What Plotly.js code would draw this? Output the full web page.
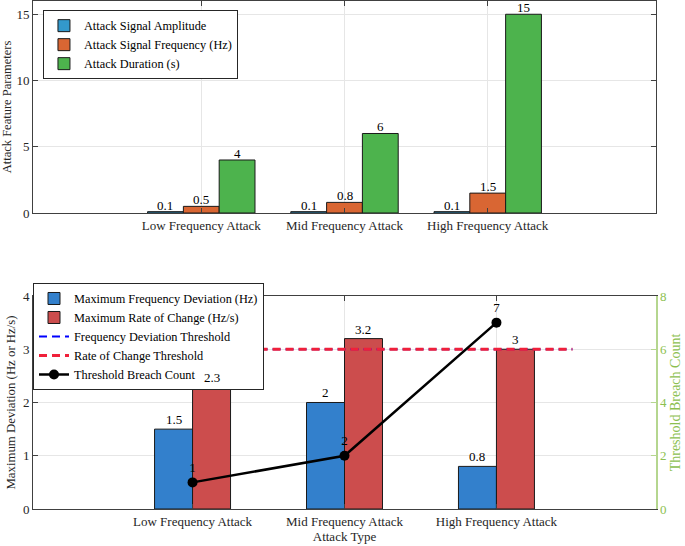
<!DOCTYPE html>
<html>
<head>
<meta charset="utf-8">
<script src="https://cdn.plot.ly/plotly-3.0.1.min.js"></script>
<style>html,body{margin:0;padding:0;background:#fff}#chart{width:685px;height:546px}</style>
</head>
<body>
<div id="chart"></div>
<script>
// ---- data ----
const categories = ['Low Frequency Attack', 'Mid Frequency Attack', 'High Frequency Attack'];
const attackAmplitude = [0.1, 0.1, 0.1];
const attackFrequency = [0.5, 0.8, 1.5];
const attackDuration = [4, 6, 15];
const maxFreqDeviation = [1.5, 2, 0.8];
const maxRateOfChange = [2.3, 3.2, 3];
const breachCount = [1, 2, 7];
const freqDevThreshold = 3;
const rocThreshold = 3;
const thresholdSpan = [0.5, 3.5];
const topYTicks = [0, 5, 10, 15];
const botYTicks = [0, 1, 2, 3, 4];
const rightYTicks = [0, 2, 4, 6, 8];

const xpos = categories.map((c, i) => i + 1);
const FONT = 'Liberation Serif';
const BARW = 0.25;

const annotations = [];
function barTrace(name, vals, color, offset, xa, ya, legend, shift) {
  vals.forEach((v, i) => {
    annotations.push({
      xref: xa, yref: ya, x: xpos[i] + offset + BARW / 2, y: v,
      text: String(v), showarrow: false, xanchor: 'center', yanchor: 'bottom',
      yshift: shift, font: {family: FONT, size: 13, color: '#000'}
    });
  });
  return {
    type: 'bar', name: name, x: xpos, y: vals,
    width: BARW, offset: offset,
    marker: {color: color, line: {color: '#1a1a1a', width: 1}},
    xaxis: xa, yaxis: ya, legend: legend, hoverinfo: 'skip'
  };
}

const traces = [
  barTrace('Attack Signal Amplitude', attackAmplitude, '#3399CC', -0.375, 'x', 'y', 'legend', -3),
  barTrace('Attack Signal Frequency (Hz)', attackFrequency, '#D96633', -0.125, 'x', 'y', 'legend', -3),
  barTrace('Attack Duration (s)', attackDuration, '#4DB34D', 0.125, 'x', 'y', 'legend', -3),
  barTrace('Maximum Frequency Deviation (Hz)', maxFreqDeviation, '#3380CC', -0.25, 'x2', 'y2', 'legend2', 0),
  barTrace('Maximum Rate of Change (Hz/s)', maxRateOfChange, '#CC4D4D', 0, 'x2', 'y2', 'legend2', 0),
  {
    type: 'scatter', mode: 'lines', name: 'Frequency Deviation Threshold',
    x: thresholdSpan, y: thresholdSpan.map(() => freqDevThreshold),
    line: {color: '#0000FF', width: 2, dash: '8px,5px'},
    xaxis: 'x2', yaxis: 'y2', legend: 'legend2', hoverinfo: 'skip'
  },
  {
    type: 'scatter', mode: 'lines', name: 'Rate of Change Threshold',
    x: thresholdSpan, y: thresholdSpan.map(() => rocThreshold),
    line: {color: '#F0203A', width: 2.8, dash: '8px,5px'},
    xaxis: 'x2', yaxis: 'y2', legend: 'legend2', hoverinfo: 'skip'
  },
  {
    type: 'scatter', mode: 'lines+markers+text', name: 'Threshold Breach Count',
    x: xpos, y: breachCount,
    text: breachCount.map(String), textposition: 'top center',
    textfont: {family: FONT, size: 13, color: '#000'},
    line: {color: '#000', width: 2.5},
    marker: {color: '#000', size: 10},
    cliponaxis: false,
    xaxis: 'x2', yaxis: 'y3', legend: 'legend2', hoverinfo: 'skip'
  }
];

const axisCommon = {
  showline: true, linecolor: '#404040', linewidth: 1,
  ticks: 'inside', ticklen: 5, tickcolor: '#404040',
  showgrid: true, gridcolor: '#E6E6E6', zeroline: false,
  tickfont: {family: FONT, size: 13, color: '#262626'}
};

const layout = {
  width: 685, height: 546,
  margin: {l: 33, r: 29, t: 1, b: 37},
  paper_bgcolor: '#fff', plot_bgcolor: '#fff',
  font: {family: FONT, size: 13, color: '#000'},
  barmode: 'overlay',
  showlegend: true,
  annotations: annotations,
  xaxis: Object.assign({}, axisCommon, {
    domain: [0, 1], anchor: 'y', range: [-0.175, 4.175],
    tickmode: 'array', tickvals: xpos, ticktext: categories, mirror: 'ticks'
  }),
  yaxis: Object.assign({}, axisCommon, {
    domain: [0.5827, 1], anchor: 'x', range: [0, 16],
    tickmode: 'array', tickvals: topYTicks, mirror: 'ticks',
    title: {text: 'Attack Feature Parameters', font: {family: FONT, size: 12.5, color: '#262626'}, standoff: 3}
  }),
  xaxis2: Object.assign({}, axisCommon, {
    domain: [0, 1], anchor: 'y2', range: [-0.05, 4.05],
    tickmode: 'array', tickvals: xpos, ticktext: categories, mirror: 'ticks',
    title: {text: 'Attack Type', font: {family: FONT, size: 13, color: '#262626'}, standoff: 2}
  }),
  yaxis2: Object.assign({}, axisCommon, {
    domain: [0, 0.4193], anchor: 'x2', range: [0, 4],
    tickmode: 'array', tickvals: botYTicks,
    title: {text: 'Maximum Deviation (Hz or Hz/s)', font: {family: FONT, size: 12.8, color: '#262626'}, standoff: 4}
  }),
  yaxis3: {
    overlaying: 'y2', anchor: 'x2', side: 'right', range: [0, 8],
    tickmode: 'array', tickvals: rightYTicks,
    showline: true, linecolor: '#B5D68F', linewidth: 1.5,
    ticks: 'inside', ticklen: 5, tickcolor: '#B5D68F',
    showgrid: false, zeroline: false,
    tickfont: {family: FONT, size: 13, color: '#8CBF4F'},
    title: {text: 'Threshold Breach Count', font: {family: FONT, size: 14, color: '#8CBF4F'}, standoff: 4}
  },
  legend: {
    x: 0.016, y: 0.982, xanchor: 'left', yanchor: 'top',
    bgcolor: '#fff', bordercolor: '#262626', borderwidth: 1,
    font: {family: FONT, size: 12.3, color: '#000'}, tracegroupgap: 0
  },
  legend2: {
    x: 0, y: 0.4449, xanchor: 'left', yanchor: 'top',
    bgcolor: '#fff', bordercolor: '#262626', borderwidth: 1,
    font: {family: FONT, size: 12.3, color: '#000'}, tracegroupgap: 0
  }
};

Plotly.newPlot('chart', traces, layout, {displayModeBar: false, staticPlot: true});
</script>
</body>
</html>
